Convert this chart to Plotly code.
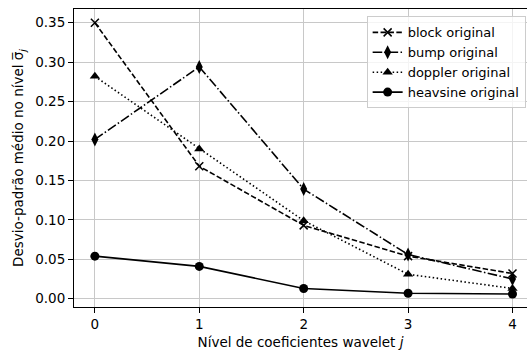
import plotly.graph_objects as go

# wavelet coefficient levels
levels = [0, 1, 2, 3, 4]

# mean standard deviation per level for each test signal
block_sigma = [0.350, 0.168, 0.093, 0.054, 0.032]
bump_sigma = [0.202, 0.294, 0.139, 0.056, 0.025]
doppler_sigma = [0.282, 0.190, 0.099, 0.031, 0.013]
heavsine_sigma = [0.054, 0.041, 0.013, 0.007, 0.006]

series_names = ["block original", "bump original", "doppler original", "heavsine original"]

y_ticks = [0.00, 0.05, 0.10, 0.15, 0.20, 0.25, 0.30, 0.35]
y_tick_text = ["0.00", "0.05", "0.10", "0.15", "0.20", "0.25", "0.30", "0.35"]

FONT = "DejaVu Sans, Verdana, sans-serif"
FS = 13.5

styles = [
    dict(dash="5.5px,2.4px", symbol="x-thin", size=8, mline=1.5),
    dict(dash="9.6px,2.4px,1.5px,2.4px", symbol="diamond-tall", size=10, mline=0),
    dict(dash="1.5px,2.5px", symbol="triangle-up", size=9, mline=0),
    dict(dash="solid", symbol="circle", size=9, mline=0),
]

fig = go.Figure()
for name, vals, st in zip(series_names,
                          [block_sigma, bump_sigma, doppler_sigma, heavsine_sigma],
                          styles):
    fig.add_trace(go.Scatter(
        x=levels, y=vals, name=name, mode="lines+markers",
        line=dict(color="black", width=1.6, dash=st["dash"]),
        marker=dict(symbol=st["symbol"], size=st["size"], color="black",
                    line=dict(color="black", width=st["mline"])),
    ))

fig.update_layout(
    width=527, height=351,
    margin=dict(l=74, r=0, t=9, b=44),
    paper_bgcolor="white", plot_bgcolor="white",
    font=dict(family=FONT, size=FS, color="black"),
    showlegend=True,
    legend=dict(
        x=0.997, y=0.975, xanchor="right", yanchor="top",
        bgcolor="rgba(255,255,255,0.8)", bordercolor="#cccccc", borderwidth=1,
        font=dict(family=FONT, size=13), tracegroupgap=0, itemwidth=30,
    ),
)

fig.update_xaxes(
    range=[-0.2, 4.139], tickvals=levels, ticktext=[str(v) for v in levels],
    showgrid=True, gridcolor="#c8c8c8", gridwidth=1,
    zeroline=False, showline=True, linecolor="black", linewidth=1, mirror=True,
    ticks="outside", ticklen=5, tickcolor="black",
    title=dict(text="Nível de coeficientes wavelet <i>j</i>", standoff=6,
               font=dict(family=FONT, size=FS)),
)
fig.update_yaxes(
    range=[-0.0105, 0.3674], tickvals=y_ticks, ticktext=y_tick_text,
    showgrid=True, gridcolor="#c8c8c8", gridwidth=1,
    zeroline=False, showline=True, linecolor="black", linewidth=1,
    ticks="outside", ticklen=5, tickcolor="black",
    title=dict(text="Desvio-padrão médio no nível σ\u0305<sub><i>j</i></sub>", standoff=8,
               font=dict(family=FONT, size=FS)),
)

fig.write_html("out.html")
